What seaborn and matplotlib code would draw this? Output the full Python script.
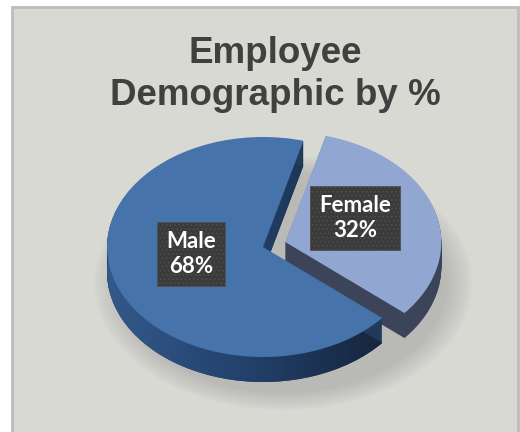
import matplotlib
matplotlib.use("Agg")
import matplotlib.pyplot as plt
import seaborn as sns
import numpy as np
from matplotlib.patches import Rectangle, Ellipse
from matplotlib.colors import to_rgb

sns.set_theme(style="white")
plt.rcParams['font.family'] = ['Liberation Sans', 'DejaVu Sans']
plt.rcParams['hatch.linewidth'] = 0.6

# ---- data ----
categories = ["Male", "Female"]
values = [68, 32]
pct_labels = ["68%", "32%"]
title_lines = ["Employee", "Demographic by %"]

top_colors = ["#4673a9", "#91a6d0"]
side_colors = ["#223a5a", "#3b4459"]

W, H = 520, 432
fig = plt.figure(figsize=(W / 100, H / 100), dpi=100)
fig.patch.set_facecolor("white")

# background panel
fig.patches.append(Rectangle((12 / W, -0.01), (518 - 12) / W, 1 - 7 / H + 0.01,
                             transform=fig.transFigure, facecolor="#d9d9d4",
                             edgecolor="#bcbcbc", linewidth=2, zorder=-5))

ax = fig.add_axes([0, 0, 1, 1])
ax.set_facecolor("none")

# pixel geometry of the projected pie
cx, cy = 263, 432 - 247
rx, ry = 156, 110
x0, x1 = (0 - cx) / rx, (W - cx) / rx
y0, y1 = (0 - cy) / ry, (H - cy) / ry

explode = [0, 0.15]
startangle = 75
thickness = 25 / ry

# soft shadow
for i in range(14):
    s = 1.0 + 0.012 * i
    ax.add_patch(Ellipse((0.13, -thickness - 0.10), 2.1 * s, 2.0 * s,
                         facecolor="#7a7a7a", alpha=0.025, lw=0, zorder=1))

# side walls (stacked layers)
n_layers = 30
bottom_wedges = None
for k in range(n_layers, 0, -1):
    d = thickness * k / n_layers
    w, _ = ax.pie(values, explode=explode, startangle=startangle,
                  colors=side_colors, center=(0, -d), radius=1,
                  wedgeprops=dict(linewidth=0), frame=True)
    for p in w:
        p.set_zorder(2)
    if bottom_wedges is None:
        bottom_wedges = w

# horizontal shading on the male side wall
c_left = np.array(to_rgb("#33598a"))
c_mid = np.array(to_rgb("#22406a"))
c_right = np.array(to_rgb("#152337"))
t = np.linspace(0, 1, 256)
grad = np.where(t[:, None] < 0.5,
                c_left + (c_mid - c_left) * (t[:, None] / 0.5),
                c_mid + (c_right - c_mid) * ((t[:, None] - 0.5) / 0.5))
img = np.tile(grad[None, :, :], (2, 1, 1))
im = ax.imshow(img, extent=(-1.0, 0.85, y0, y1), aspect="auto",
               interpolation="bilinear", zorder=2.5)
im.set_clip_path(bottom_wedges[0])

# top faces
wt, _ = ax.pie(values, explode=explode, startangle=startangle,
               colors=top_colors, center=(0, 0), radius=1,
               wedgeprops=dict(linewidth=0), frame=True)
for p in wt:
    p.set_zorder(3)

ax.set_aspect("auto")
ax.set_xlim(x0, x1)
ax.set_ylim(y0, y1)
ax.axis("off")

# labels
label_pos = [((191 - cx) / rx, (432 - 254 - cy) / ry),
             ((355 - cx) / rx, (432 - 218 - cy) / ry)]
for (lx, ly), cat, pct in zip(label_pos, categories, pct_labels):
    ax.text(lx, ly, f"{cat}\n{pct}", ha="center", va="center",
            fontsize=16, fontweight="bold", color="white",
            family=["Lato", "DejaVu Sans"], linespacing=1.25, zorder=5,
            bbox=dict(boxstyle="square,pad=0.4", facecolor="#3b3b3b",
                      edgecolor="#4f4f4f", linewidth=0.6, hatch="...."))

# title
fig.text(275 / W, 1 - 63 / H, title_lines[0], ha="center", va="baseline",
         fontsize=26.5, fontweight="bold", color="#404040")
fig.text(275 / W, 1 - 105 / H, title_lines[1], ha="center", va="baseline",
         fontsize=26.5, fontweight="bold", color="#404040")

fig.savefig("out.png", dpi=100, facecolor=fig.get_facecolor())
